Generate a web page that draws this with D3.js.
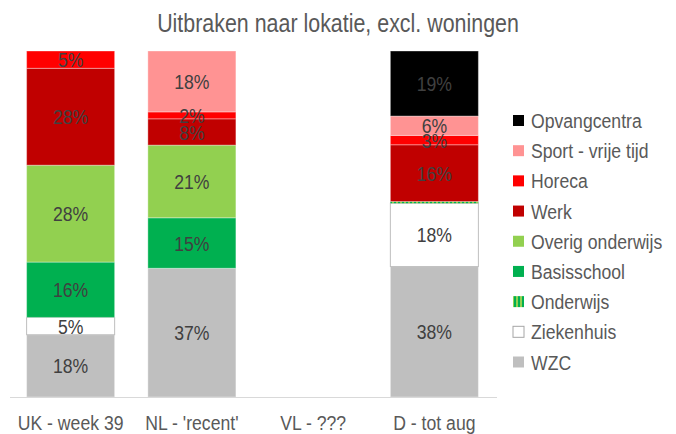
<!DOCTYPE html>
<html>
<head>
<meta charset="utf-8">
<script src="https://cdn.jsdelivr.net/npm/d3@7"></script>
<style>
  html, body { margin: 0; padding: 0; background: #fff; }
  svg { display: block; }
  text { font-family: "Liberation Sans", Arial, sans-serif; }
</style>
</head>
<body>
<svg id="chart" width="676" height="434"></svg>
<script>
// ---- data ----
const categories = ["UK - week 39", "NL - 'recent'", "VL - ???", "D - tot aug"];
const seriesNames = ["WZC", "Ziekenhuis", "Onderwijs", "Basisschool", "Overig onderwijs", "Werk", "Horeca", "Sport - vrije tijd", "Opvangcentra"];
const wzc            = [18, 37.2, 0, 37.7];
const ziekenhuis     = [5, 0, 0, 18.3];
const onderwijs      = [0, 0, 0, 0.5];
const basisschool    = [16, 14.6, 0, 0];
const overigOnderwijs= [28, 21.0, 0, 0];
const werk           = [28, 7.6, 0, 16.4];
const horeca         = [5, 2.0, 0, 2.7];
const sport          = [0, 17.6, 0, 5.6];
const opvangcentra   = [0, 0, 0, 18.8];
const seriesValues = [wzc, ziekenhuis, onderwijs, basisschool, overigOnderwijs, werk, horeca, sport, opvangcentra];
const seriesColors = ["#BFBFBF", "#FFFFFF", "url(#stripes)", "#00B050", "#92D050", "#C00000", "#FF0000", "#FF9393", "#000000"];
const title = "Uitbraken naar lokatie, excl. woningen";

const NARROW = 0.84; // emulate a narrow sans face

// ---- build table ----
const table = categories.map((c, i) => {
  const row = { cat: c };
  seriesNames.forEach((s, j) => row[s] = seriesValues[j][i]);
  return row;
});

const svg = d3.select("#chart");
const defs = svg.append("defs");
const pat = defs.append("pattern").attr("id", "stripes").attr("patternUnits", "userSpaceOnUse")
  .attr("width", 4).attr("height", 4);
pat.append("rect").attr("x", 0).attr("y", 0).attr("width", 2).attr("height", 4).attr("fill", "#92D050");
pat.append("rect").attr("x", 2).attr("y", 0).attr("width", 2).attr("height", 4).attr("fill", "#00B050");

const x = d3.scaleBand().domain(categories).range([10, 495]).paddingInner(0.274).paddingOuter(0.137);
const y = d3.scaleLinear().domain([0, 100]).range([397, 51]);
const color = d3.scaleOrdinal().domain(seriesNames).range(seriesColors);

const stack = d3.stack().keys(seriesNames);
const layers = stack(table);

// title
svg.append("text").attr("transform", `translate(338,31.5) scale(${NARROW},1)`).attr("text-anchor", "middle")
  .attr("font-size", 25.5).attr("fill", "#595959").text(title);

// bars
const g = svg.append("g");
layers.forEach(layer => {
  const key = layer.key;
  g.selectAll(null).data(layer.filter(d => d[1] - d[0] > 0)).enter().append("rect")
    .attr("x", d => x(d.data.cat))
    .attr("width", x.bandwidth())
    .attr("y", d => y(d[1]))
    .attr("height", d => y(d[0]) - y(d[1]))
    .attr("fill", color(key))
    .attr("stroke", key === "Ziekenhuis" ? "#BFBFBF" : (key === "Onderwijs" ? "none" : "#ffffff"))
    .attr("stroke-opacity", key === "Ziekenhuis" ? 1 : 0.35)
    .attr("stroke-width", 1);
});

// labels
layers.forEach(layer => {
  g.selectAll(null).data(layer.filter(d => d[1] - d[0] >= 1)).enter().append("text")
    .attr("transform", d => `translate(${x(d.data.cat) + x.bandwidth() / 2},${(y(d[0]) + y(d[1])) / 2}) scale(${NARROW},1)`)
    .attr("dy", "0.36em")
    .attr("text-anchor", "middle")
    .attr("font-size", 21)
    .attr("fill", "#404040")
    .text(d => Math.round(d[1] - d[0]) + "%");
});

// x axis
const xAxis = d3.axisBottom(x).tickSize(0).tickPadding(0);
const ax = svg.append("g").attr("transform", "translate(0,397)").call(xAxis);
ax.select(".domain").attr("stroke", "#D9D9D9").attr("stroke-width", 1).attr("d", "M10,0.5H497");
ax.selectAll("text").attr("font-size", 21).attr("fill", "#595959").attr("y", 0).attr("dy", 0)
  .attr("transform", `translate(0,33) scale(${NARROW},1)`)
  .style("font-family", '"Liberation Sans", Arial, sans-serif');

// legend
const legendNames = seriesNames.slice().reverse();
const lg = svg.append("g");
const ly = d3.scalePoint().domain(legendNames).range([120.5, 362]);
legendNames.forEach(n => {
  lg.append("rect").attr("x", 513).attr("y", ly(n) - 5.5).attr("width", 11).attr("height", 11)
    .attr("fill", color(n))
    .attr("stroke", n === "Ziekenhuis" ? "#A6A6A6" : "none").attr("stroke-width", 1);
  lg.append("text").attr("transform", `translate(531,${ly(n)}) scale(${NARROW},1)`).attr("dy", "0.36em")
    .attr("font-size", 21).attr("fill", "#595959").text(n);
});
</script>
</body>
</html>
